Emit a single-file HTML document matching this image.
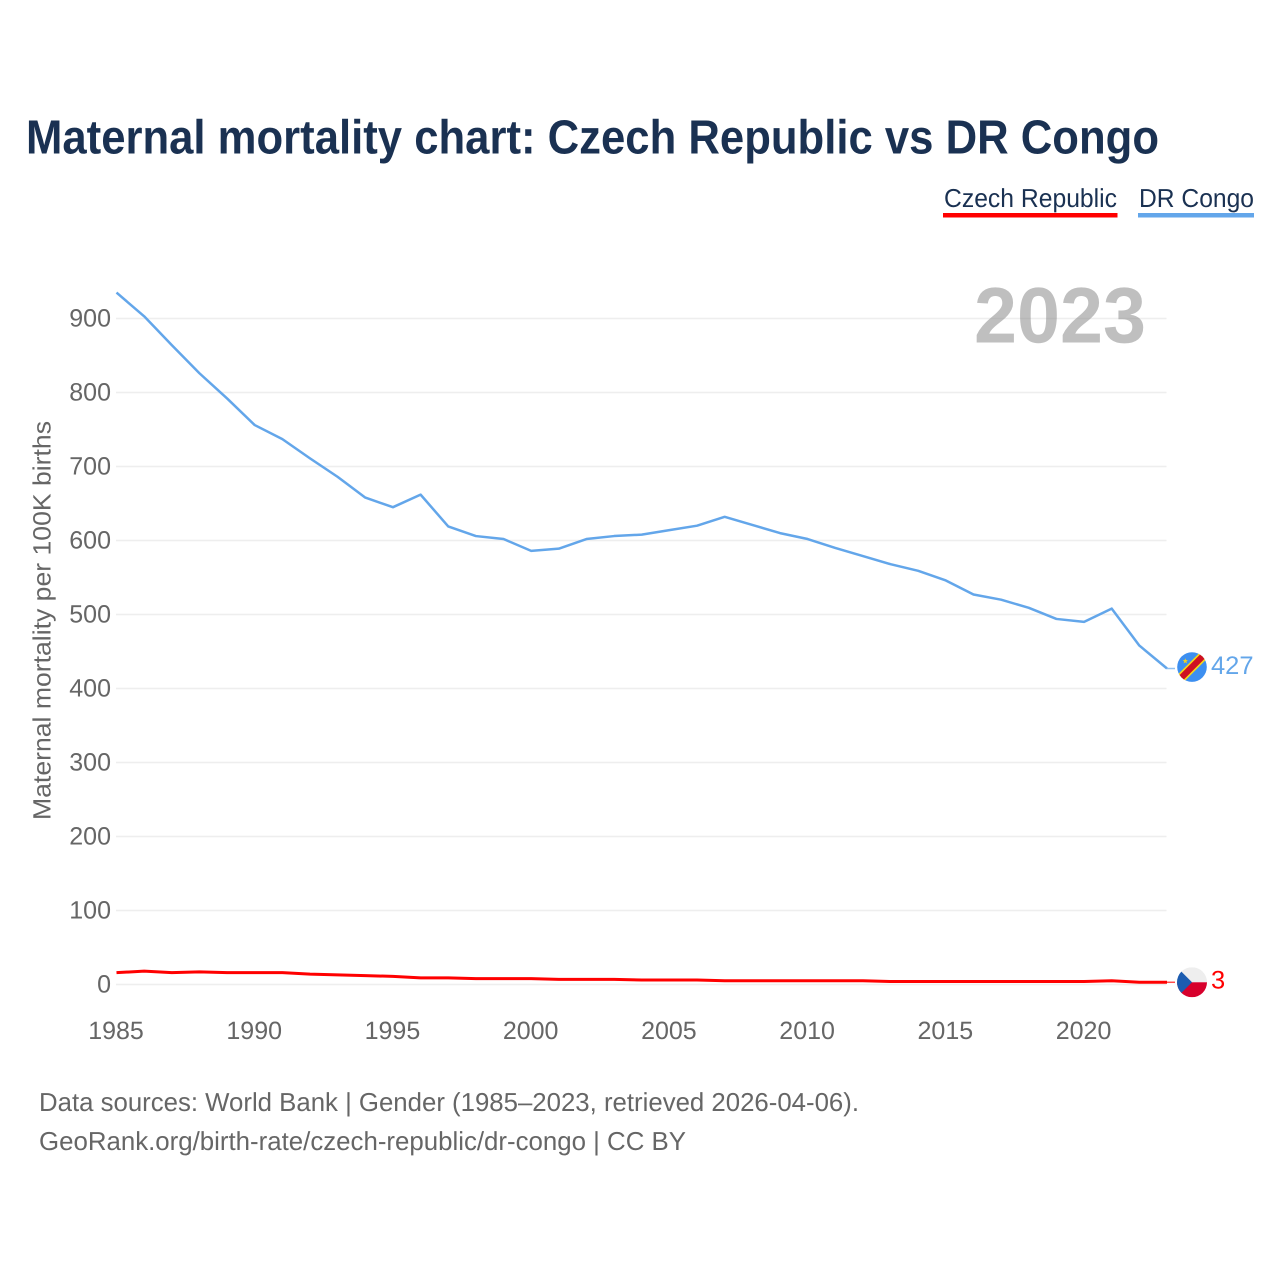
<!DOCTYPE html>
<html lang="en">
<head>
<meta charset="utf-8">
<title>Maternal mortality chart: Czech Republic vs DR Congo</title>
<style>
html,body{margin:0;padding:0;background:#fff;}
svg{display:block;font-family:"Liberation Sans",sans-serif;text-rendering:geometricPrecision;}
</style>
</head>
<body>
<svg id="chart" xmlns="http://www.w3.org/2000/svg" width="1280" height="1280" viewBox="0 0 1280 1280">
  <rect width="1280" height="1280" fill="#fff"/>
  <defs>
    <clipPath id="flag-clip-cd"><circle cx="0" cy="0" r="14.8"/></clipPath>
    <clipPath id="flag-clip-cz"><circle cx="0" cy="0" r="15"/></clipPath>
  </defs>
  <text x="26" y="153.5" font-size="48" font-weight="700" fill="#1a3152" textLength="1133" lengthAdjust="spacingAndGlyphs">Maternal mortality chart: Czech Republic vs DR Congo</text>

  <g>
    <g>
      <text x="944" y="207" font-size="26" fill="#1a3152" textLength="173" lengthAdjust="spacingAndGlyphs">Czech Republic</text>
      <rect x="943" y="213" width="174.5" height="4.5" fill="#ff0000"/>
    </g>
    <g>
      <text x="1139" y="207" font-size="26" fill="#1a3152" textLength="115" lengthAdjust="spacingAndGlyphs">DR Congo</text>
      <rect x="1138" y="213" width="116" height="4.5" fill="#63a6ea"/>
    </g>
  </g>

  <g id="grid"></g>
  <text transform="translate(50.5,820) rotate(-90)" x="0" y="0" font-size="25" fill="#666" textLength="399" lengthAdjust="spacingAndGlyphs">Maternal mortality per 100K births</text>
  <g id="yticks"></g>
  <g id="xticks"></g>

  <text id="year" x="1146" y="342.5" text-anchor="end" font-size="79" font-weight="700" fill="#808080" fill-opacity="0.5" textLength="172" lengthAdjust="spacingAndGlyphs"></text>

  <g id="series"></g>

  <g id="flag-cd">
    <g clip-path="url(#flag-clip-cd)">
      <rect x="-15" y="-15" width="30" height="30" fill="#3d8ff0"/>
      <line x1="-16" y1="16" x2="16" y2="-16" stroke="#f7d618" stroke-width="9.5"/>
      <line x1="-16" y1="16" x2="16" y2="-16" stroke="#ce1021" stroke-width="6.2"/>
      <polygon points="-6.7,-8.8 -6,-6.9 -4,-6.9 -5.6,-5.6 -5,-3.6 -6.7,-4.8 -8.4,-3.6 -7.8,-5.6 -9.4,-6.9 -7.4,-6.9" fill="#f7d618"/>
    </g>
  </g>
  <g id="flag-cz">
    <g clip-path="url(#flag-clip-cz)">
      <rect x="-15" y="-15" width="30" height="15" fill="#eeeeee"/>
      <rect x="-15" y="0" width="30" height="15" fill="#d7002c"/>
      <polygon points="-15,-15 0,0 -15,15" fill="#1c5cb0"/>
    </g>
  </g>
  <text id="label-cd" x="1211" font-size="25.5" fill="#63a6ea"></text>
  <text id="label-cz" x="1211" font-size="25.5" fill="#ff0000"></text>

  <g>
    <text x="39" y="1111" font-size="26" fill="#666" textLength="820" lengthAdjust="spacingAndGlyphs">Data sources: World Bank | Gender (1985–2023, retrieved 2026-04-06).</text>
    <text x="39" y="1150" font-size="26" fill="#666" textLength="647" lengthAdjust="spacingAndGlyphs">GeoRank.org/birth-rate/czech-republic/dr-congo | CC BY</text>
  </g>
</svg>
<script>
const years = [1985,1986,1987,1988,1989,1990,1991,1992,1993,1994,1995,1996,1997,1998,1999,2000,2001,2002,2003,2004,2005,2006,2007,2008,2009,2010,2011,2012,2013,2014,2015,2016,2017,2018,2019,2020,2021,2022,2023];
const drCongo = [935,903,864,826,792,756,737,711,686,658,645,662,619,606,602,586,589,602,606,608,614,620,632,621,610,602,590,579,568,559,546,527,520,509,494,490,508,458,427];
const czechRepublic = [16,18,16,17,16,16,16,14,13,12,11,9,9,8,8,8,7,7,7,6,6,6,5,5,5,5,5,5,4,4,4,4,4,4,4,4,5,3,3];
const yTickValues = [0,100,200,300,400,500,600,700,800,900];
const xTickValues = [1985,1990,1995,2000,2005,2010,2015,2020];

const SVG_NS = 'http://www.w3.org/2000/svg';
function xScale(year) { return 116.5 + (year - 1985) * (1167 - 116.5) / 38; }
function yScale(value) { return 984.5 - value * 0.74; }
function make(tag, parent, attrs) {
  const el = document.createElementNS(SVG_NS, tag);
  for (const key in attrs) el.setAttribute(key, attrs[key]);
  parent.appendChild(el);
  return el;
}
const grid = document.getElementById('grid');
const yticks = document.getElementById('yticks');
const xticks = document.getElementById('xticks');
const series = document.getElementById('series');

yTickValues.forEach(function (v) {
  const line = make('line', grid, {x1: 116, x2: 1166.5, y1: yScale(v), y2: yScale(v), stroke: '#eeeeee', 'stroke-width': 1.5});
  
  
  const label = make('text', yticks, {x: 111, y: yScale(v) + 8, 'text-anchor': 'end', 'font-size': 25, fill: '#666'});
  label.textContent = String(v);
  
  
});
xTickValues.forEach(function (v) {
  const label = make('text', xticks, {x: xScale(v) - 0.5, y: 1039, 'text-anchor': 'middle', 'font-size': 25, fill: '#666'});
  label.textContent = String(v);
  
  
});

function drawSeries(values, color, width) {
  const pts = values.map(function (v, i) { return xScale(years[i]).toFixed(2) + ',' + yScale(v).toFixed(2); }).join(' ');
  return make('polyline', series, {points: pts, fill: 'none', stroke: color, 'stroke-width': width, 'stroke-linejoin': 'round'});
}
function drawConnector(value, color) {
  const y = yScale(value);
  return make('line', series, {x1: xScale(years[years.length - 1]), x2: 1175, y1: y, y2: y, stroke: color, 'stroke-width': 1.5, 'stroke-opacity': 0.7});
}

const blueLine = drawSeries(drCongo, '#63a6ea', 2.5);


const redLine = drawSeries(czechRepublic, '#ff0000', 3);



const lastCd = drCongo[drCongo.length - 1];
const lastCz = czechRepublic[czechRepublic.length - 1];
const blueConnector = drawConnector(lastCd, '#63a6ea');


const redConnector = drawConnector(lastCz, '#ff0000');



document.getElementById('flag-cd').setAttribute('transform', 'translate(1192,' + (yScale(lastCd) - 1.5) + ')');
document.getElementById('flag-cz').setAttribute('transform', 'translate(1192,' + yScale(lastCz) + ')');
const labelCd = document.getElementById('label-cd');
labelCd.setAttribute('y', yScale(lastCd) + 5.5);
labelCd.textContent = String(lastCd);
const labelCz = document.getElementById('label-cz');
labelCz.setAttribute('y', yScale(lastCz) + 6);
labelCz.textContent = String(lastCz);
document.getElementById('year').textContent = String(years[years.length - 1]);
</script>
</body>
</html>
